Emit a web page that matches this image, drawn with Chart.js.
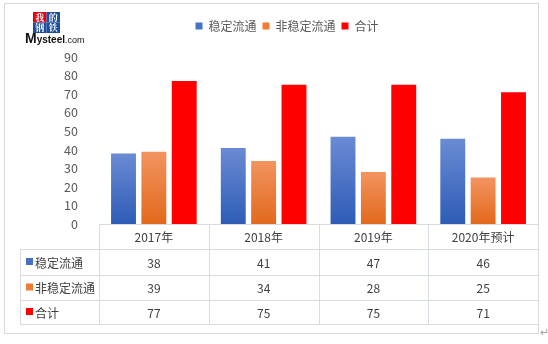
<!DOCTYPE html>
<html>
<head>
<meta charset="utf-8">
<script src="https://cdn.jsdelivr.net/npm/chart.js@4/dist/chart.umd.min.js"></script>
<style>
	html, body { margin: 0; padding: 0; background: #fff; }
	#wrap { width: 548px; height: 344px; position: relative; }
</style>
</head>
<body>
<div id="wrap"><canvas id="chart" width="548" height="344"></canvas></div>
<script>
const categories = ["2017年", "2018年", "2019年", "2020年预计"];
const seriesNames = ["稳定流通", "非稳定流通", "合计"];
const stable = [38, 41, 47, 46];
const unstable = [39, 34, 28, 25];
const total = [77, 75, 75, 71];
const yTicks = [0, 10, 20, 30, 40, 50, 60, 70, 80, 90];

const FONT = '"Noto Sans CJK SC", "Noto Sans", sans-serif';
const legendColors = ["#4472c4", "#ed7d31", "#ff0000"];
const gradColors = [["#6a8bd4", "#2e5cb6"], ["#f29460", "#e2691c"], null];

const barFill = function(idx) {
	return function(ctx) {
		const chart = ctx.chart;
		if (!chart.chartArea || ctx.raw == null || !gradColors[idx]) return legendColors[idx];
		const y = chart.scales.y;
		const top = y.getPixelForValue(ctx.raw);
		const bottom = y.getPixelForValue(0);
		const g = chart.ctx.createLinearGradient(0, top, 0, bottom);
		g.addColorStop(0, gradColors[idx][0]);
		g.addColorStop(1, gradColors[idx][1]);
		return g;
	};
}

// frame, logo and data table under the plot
const extras = {
	id: "extras",
	beforeInit(chart) {
		const fit = chart.legend.fit;
		chart.legend.fit = function() {
			fit.bind(chart.legend)();
			this.height = 43;
		};
	},
	beforeDraw(chart) {
		const c = chart.ctx;
		c.save();
		c.strokeStyle = "#d9d9d9";
		c.lineWidth = 1;
		c.strokeRect(4.5, 3.5, 534, 330);
		c.restore();
	},
	afterDraw(chart) {
		const c = chart.ctx;
		const x = chart.scales.x;
		const area = chart.chartArea;
		const n = categories.length;
		const colW = (area.right - area.left) / n;
		const rowTop = area.bottom;
		const rows = [area.bottom, 249, 275, 300, 324];
		const labelLeft = 20;

		c.save();
		c.strokeStyle = "#d6dbe4";
		c.lineWidth = 1;
		c.beginPath();
		c.moveTo(area.left, Math.round(rowTop) + 0.5);
		c.lineTo(area.right, Math.round(rowTop) + 0.5);
		for (let i = 1; i < rows.length; i++) {
			c.moveTo(labelLeft, rows[i] + 0.5);
			c.lineTo(area.right, rows[i] + 0.5);
		}
		c.moveTo(labelLeft + 0.5, rows[1]);
		c.lineTo(labelLeft + 0.5, rows[4]);
		for (let i = 0; i <= n; i++) {
			const px = Math.round(area.left + colW * i) + 0.5;
			c.moveTo(px, rowTop);
			c.lineTo(px, rows[4]);
		}
		c.stroke();

		c.font = "12px " + FONT;
		c.fillStyle = "#404040";
		c.textAlign = "center";
		c.textBaseline = "middle";
		categories.forEach((cat, i) => {
			c.fillText(cat, x.getPixelForValue(i), (rows[0] + rows[1]) / 2 + 1);
		});
		const values = [stable, unstable, total];
		values.forEach((vals, r) => {
			const cy = (rows[r + 1] + rows[r + 2]) / 2 + 1;
			c.fillStyle = legendColors[r];
			c.fillRect(26, cy - 5, 7, 7);
			c.fillStyle = "#404040";
			c.textAlign = "left";
			c.fillText(seriesNames[r], 35, cy);
			c.textAlign = "center";
			vals.forEach((v, i) => c.fillText(String(v), x.getPixelForValue(i), cy));
		});

		// logo
		const sq = [["我", 33, 12, "#e60012"], ["的", 46.5, 12, "#1d4f9c"], ["钢", 33, 22.5, "#1d4f9c"], ["铁", 46.5, 22.5, "#1d4f9c"]];
		c.font = "bold 9px \"Noto Serif CJK SC\", " + FONT;
		for (const [ch, sx, sy, col] of sq) {
			c.fillStyle = col;
			c.fillRect(sx, sy, 13.5, 10.5);
			c.fillStyle = "#fff";
			c.fillText(ch, sx + 6.75, sy + 5.5);
		}
		c.textAlign = "left";
		c.textBaseline = "alphabetic";
		c.fillStyle = "#111";
		let lx = 25;
		c.font = "bold 14px Arial, \"Liberation Sans\", sans-serif";
		c.fillText("M", lx, 43);
		lx += c.measureText("M").width;
		c.font = "bold 10px Arial, \"Liberation Sans\", sans-serif";
		c.fillText("ysteel", lx, 43);
		lx += c.measureText("ysteel").width;
		c.font = "9px Arial, \"Liberation Sans\", sans-serif";
		c.fillText(".com", lx, 43);

		c.fillStyle = "#a6a6a6";
		c.font = "11px " + FONT;
		c.fillText("↵", 540, 336);
		c.restore();
	}
};

new Chart(document.getElementById("chart"), {
	type: "bar",
	data: {
		labels: categories,
		datasets: [stable, unstable, total].map((d, i) => ({
			label: seriesNames[i],
			data: d,
			backgroundColor: barFill(i),
			categoryPercentage: 0.83,
			barPercentage: 0.82
		}))
	},
	options: {
		responsive: false,
		animation: false,
		devicePixelRatio: 1,
		layout: { padding: { top: 14, right: 10, bottom: 120, left: 36 } },
		plugins: {
			tooltip: { enabled: false },
			legend: {
				position: "top",
				labels: {
					boxWidth: 7,
					boxHeight: 7,
					padding: 6,
					color: "#595959",
					font: { family: FONT, size: 12 },
					generateLabels: function(chart) {
						return seriesNames.map((name, i) => ({
							text: name,
							fillStyle: legendColors[i],
							strokeStyle: legendColors[i],
							lineWidth: 0,
							fontColor: "#595959",
							datasetIndex: i
						}));
					}
				}
			}
		},
		scales: {
			x: { display: false },
			y: {
				min: 0,
				max: 90,
				afterFit: function(scale) { scale.width = 63; },
				afterBuildTicks: function(scale) { scale.ticks = yTicks.map(v => ({ value: v })); },
				grid: { display: false },
				border: { display: false },
				ticks: {
					autoSkip: false,
					stepSize: 10,
					padding: 13,
					color: "#595959",
					font: { family: FONT, size: 12.5 }
				}
			}
		}
	},
	plugins: [extras]
});
</script>
</body>
</html>
